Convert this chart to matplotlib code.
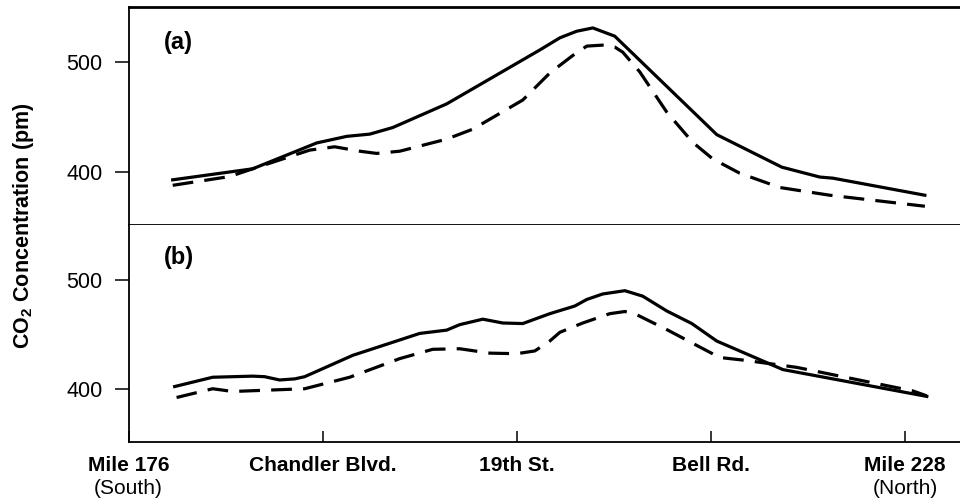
import matplotlib
matplotlib.use("Agg")
import matplotlib.pyplot as plt

plt.rcParams['font.family'] = ['Liberation Sans', 'DejaVu Sans']
plt.rcParams['mathtext.fontset'] = 'custom'
plt.rcParams['mathtext.bf'] = 'Liberation Sans:bold'
plt.rcParams['mathtext.rm'] = 'Liberation Sans:bold'
plt.rcParams['mathtext.default'] = 'bf'

# position along the route in tick units (0 = Mile 176 ... 4 = Mile 228)
a_solid_x = [0.227, 0.639, 0.969, 1.124, 1.242, 1.361, 1.639, 2.119, 2.222,
             2.309, 2.392, 2.505, 3.031, 3.366, 3.562, 3.629, 4.103]
a_solid_y = [393, 403, 426.5, 432.5, 434.5, 440.5, 462, 511, 522,
             528, 531, 523.5, 434, 404.5, 395.5, 394.5, 379]

a_dash_x = [0.227, 0.521, 0.639, 0.933, 1.062, 1.191, 1.278, 1.397, 1.639,
            1.773, 2.031, 2.170, 2.289, 2.361, 2.454, 2.505, 2.546, 2.634,
            2.773, 2.907, 3.010, 3.149, 3.356, 3.613, 4.103]
a_dash_y = [388, 396, 403, 420, 423, 419, 417, 419, 430,
            439, 465.5, 490, 506, 514.5, 515.5, 513.6, 509, 491,
            454.5, 427, 412, 399, 386, 379, 369]

b_solid_x = [0.237, 0.433, 0.639, 0.701, 0.778, 0.856, 0.907, 1.155, 1.345,
             1.500, 1.639, 1.706, 1.825, 1.928, 2.031, 2.170, 2.299, 2.361,
             2.443, 2.557, 2.649, 2.773, 2.902, 3.031, 3.371, 4.113]
b_solid_y = [402.5, 411, 412, 411.5, 408.5, 409.5, 411.5, 431, 442,
             451, 454, 459, 464, 460.5, 460, 469, 476, 482,
             487, 490, 485, 471.5, 460, 444, 418, 393.5]

b_dash_x = [0.247, 0.433, 0.536, 0.907, 1.139, 1.397, 1.567, 1.706, 1.861,
            2.000, 2.093, 2.170, 2.222, 2.340, 2.479, 2.557, 2.619, 2.773,
            2.928, 3.046, 3.175, 3.443, 4.041, 4.113]
b_dash_y = [392.5, 400.5, 398, 400.5, 411, 428, 436.5, 437, 433,
            432.5, 435, 444, 452, 460.5, 469, 471, 468, 454.5,
            440, 429, 426.5, 420, 398.5, 394]

tick_pos = [0, 1, 2, 3, 4]
tick_labels = ["Mile 176", "Chandler Blvd.", "19th St.", "Bell Rd.", "Mile 228"]
y_ticks = [400, 500]

fig = plt.figure(figsize=(9.6, 5.01), dpi=100)
ax_a = fig.add_axes([0.134, 0.551, 0.866, 0.435])
ax_b = fig.add_axes([0.134, 0.118, 0.866, 0.433], sharex=ax_a)

dash = (6.5, 3.5)
ax_a.plot(a_solid_x, a_solid_y, color='black', lw=2.3)
ax_a.plot(a_dash_x, a_dash_y, color='black', lw=2.3, linestyle=(0, dash))
ax_b.plot(b_solid_x, b_solid_y, color='black', lw=2.3)
ax_b.plot(b_dash_x, b_dash_y, color='black', lw=2.3, linestyle=(0, dash))

for ax in (ax_a, ax_b):
    ax.set_ylim(352, 550)
    ax.set_yticks(y_ticks)
    ax.tick_params(axis='y', direction='out', length=10, width=1.1,
                   pad=9, labelsize=15.5)
    ax.spines['right'].set_visible(False)
    for s in ('left', 'top', 'bottom'):
        ax.spines[s].set_linewidth(1.3)

ax_a.set_xlim(0, 4.284)
ax_a.spines['top'].set_linewidth(2)
ax_a.tick_params(axis='x', bottom=False, labelbottom=False)
ax_b.spines['top'].set_visible(False)

ax_b.set_xticks(tick_pos)
ax_b.set_xticklabels(tick_labels, fontweight='bold', fontsize=15)
ax_b.tick_params(axis='x', direction='in', length=8, width=1.1, pad=10)

ax_b.annotate("(South)", xy=(0, 0), xycoords=('data', 'axes fraction'),
              xytext=(0, -27), textcoords='offset points',
              ha='center', va='top', fontsize=15)
ax_b.annotate("(North)", xy=(4, 0), xycoords=('data', 'axes fraction'),
              xytext=(0, -27), textcoords='offset points',
              ha='center', va='top', fontsize=15)

ax_a.text(0.042, 0.835, "(a)", transform=ax_a.transAxes,
          fontsize=17, fontweight='bold', va='center')
ax_b.text(0.042, 0.848, "(b)", transform=ax_b.transAxes,
          fontsize=17, fontweight='bold', va='center')

fig.text(0.025, 0.55, r"CO$_2$ Concentration (pm)", rotation=90,
         ha='center', va='center', fontsize=15.5, fontweight='bold')

fig.savefig("out.png", dpi=100)
